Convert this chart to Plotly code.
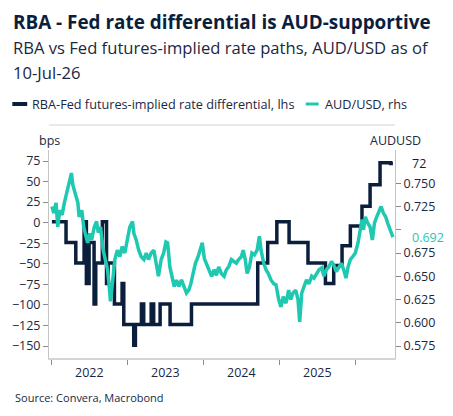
import plotly.graph_objects as go

# RBA-Fed futures-implied rate differential (bps), step series
diff_dates = ["2022-01-01", "2022-03-10", "2022-04-26", "2022-06-05", "2022-06-16", "2022-06-29",
              "2022-07-23", "2022-07-31", "2022-09-01", "2022-09-21", "2022-09-29", "2022-10-29",
              "2022-12-05", "2022-12-13", "2023-01-30", "2023-02-07", "2023-03-08", "2023-03-19",
              "2023-04-24", "2023-05-06", "2023-06-06", "2023-07-24", "2023-11-04", "2024-09-18",
              "2024-11-05", "2024-12-19", "2025-02-16", "2025-05-18", "2025-08-10", "2025-09-19",
              "2025-10-29", "2025-12-08", "2026-02-02", "2026-03-13", "2026-04-30", "2026-06-20",
              "2026-07-01"]
diff_vals = [1, -24, -49, 1, -74, -24, -99, -49, 1, -74, -49, -99, -74, -124, -149, -124, -99, -124,
             -99, -124, -99, -124, -99, -49, -24, 1, -24, -49, -74, -52, -28, -4, 20, 46, 73, 72, 72]

# AUD/USD (rhs)
aud_dates = ["2022-01-01", "2022-01-10", "2022-01-21", "2022-01-29", "2022-02-08", "2022-02-19",
             "2022-03-03", "2022-03-14", "2022-03-26", "2022-04-05", "2022-04-12", "2022-04-23",
             "2022-05-06", "2022-05-12", "2022-05-25", "2022-06-03", "2022-06-13", "2022-06-22",
             "2022-07-02", "2022-07-11", "2022-07-24", "2022-08-04", "2022-08-12", "2022-08-23",
             "2022-09-05", "2022-09-13", "2022-09-26", "2022-10-04", "2022-10-10", "2022-10-23",
             "2022-10-31", "2022-11-12", "2022-11-24", "2022-12-05", "2022-12-18", "2022-12-30",
             "2023-01-11", "2023-01-24", "2023-01-31", "2023-02-11", "2023-02-23", "2023-03-07",
             "2023-03-20", "2023-03-31", "2023-04-11", "2023-04-24", "2023-05-07", "2023-05-18",
             "2023-05-29", "2023-06-11", "2023-06-23", "2023-07-04", "2023-07-12", "2023-07-23",
             "2023-08-04", "2023-08-13", "2023-08-24", "2023-09-04", "2023-09-17", "2023-09-30",
             "2023-10-11", "2023-10-22", "2023-11-01", "2023-11-12", "2023-11-23", "2023-12-06",
             "2023-12-19", "2023-12-26", "2024-01-05", "2024-01-16", "2024-01-27", "2024-02-09",
             "2024-02-21", "2024-03-03", "2024-03-14", "2024-03-27", "2024-04-09", "2024-04-20",
             "2024-05-01", "2024-05-14", "2024-05-27", "2024-06-07", "2024-06-18", "2024-07-01",
             "2024-07-10", "2024-07-20", "2024-07-29", "2024-08-09", "2024-08-21", "2024-09-02",
             "2024-09-15", "2024-09-26", "2024-10-04", "2024-10-17", "2024-10-28", "2024-11-08",
             "2024-11-21", "2024-12-04", "2024-12-15", "2024-12-28", "2025-01-08", "2025-01-19",
             "2025-02-01", "2025-02-14", "2025-02-24", "2025-03-07", "2025-03-20", "2025-03-31",
             "2025-04-08", "2025-04-18", "2025-04-29", "2025-05-11", "2025-05-23", "2025-06-05",
             "2025-06-16", "2025-06-27", "2025-07-10", "2025-07-23", "2025-08-03", "2025-08-14",
             "2025-08-26", "2025-09-08", "2025-09-19", "2025-10-01", "2025-10-13", "2025-10-26",
             "2025-11-06", "2025-11-17", "2025-11-27", "2025-12-08", "2025-12-19", "2026-01-01",
             "2026-01-14", "2026-01-25", "2026-02-02", "2026-02-09", "2026-02-18", "2026-03-02",
             "2026-03-13", "2026-03-24", "2026-04-03", "2026-04-14", "2026-04-25", "2026-05-05",
             "2026-05-16", "2026-05-27", "2026-06-06", "2026-06-17", "2026-07-01"]
aud_vals = [0.725, 0.718, 0.729, 0.703, 0.721, 0.716,
            0.730, 0.740, 0.750, 0.761, 0.748, 0.740,
            0.729, 0.714, 0.721, 0.703, 0.693, 0.686,
            0.696, 0.689, 0.703, 0.709, 0.697, 0.703,
            0.678, 0.668, 0.657, 0.639, 0.623, 0.650,
            0.668, 0.678, 0.671, 0.682, 0.675, 0.689,
            0.703, 0.709, 0.696, 0.689, 0.678, 0.671,
            0.668, 0.675, 0.668, 0.675, 0.678, 0.664,
            0.650, 0.668, 0.675, 0.687, 0.686, 0.660,
            0.650, 0.639, 0.646, 0.639, 0.646, 0.637,
            0.632, 0.635, 0.642, 0.653, 0.664, 0.671,
            0.682, 0.686, 0.669, 0.664, 0.657, 0.650,
            0.657, 0.651, 0.660, 0.653, 0.650, 0.657,
            0.660, 0.668, 0.666, 0.664, 0.668, 0.671,
            0.678, 0.668, 0.653, 0.660, 0.675, 0.673,
            0.678, 0.693, 0.678, 0.664, 0.657, 0.653,
            0.646, 0.642, 0.641, 0.625, 0.617, 0.628,
            0.621, 0.635, 0.625, 0.632, 0.635, 0.625,
            0.601, 0.632, 0.639, 0.646, 0.642, 0.650,
            0.648, 0.653, 0.657, 0.659, 0.650, 0.657,
            0.660, 0.666, 0.662, 0.655, 0.659, 0.664,
            0.657, 0.648, 0.660, 0.668, 0.671, 0.675,
            0.686, 0.700, 0.711, 0.700, 0.714, 0.707,
            0.703, 0.689, 0.707, 0.714, 0.721, 0.725,
            0.718, 0.714, 0.707, 0.700, 0.692]

year_labels = ["2022", "2023", "2024", "2025"]
year_mids = ["2022-07-02", "2023-07-02", "2024-07-01", "2025-07-02"]
year_ticks = ["2022-01-01", "2023-01-01", "2024-01-01", "2025-01-01", "2026-01-01"]
left_ticks = [75, 50, 25, 0, -25, -50, -75, -100, -125, -150]
right_ticks = [0.750, 0.725, 0.700, 0.675, 0.650, 0.625, 0.600, 0.575]
right_text = ["0.750", "0.725", "", "0.675", "0.650", "0.625", "0.600", "0.575"]

NAVY = "#0b1f3c"
TEAL = "#1fc8b0"
TXT = "#1c2840"
FONT = "Open Sans"

W, H = 453, 416
L, R, T, B = 46, 395, 150, 358
pw, ph = R - L, B - T


def px(x):
    return (x - L) / pw


def py(y):
    return (B - y) / ph


fig = go.Figure()
fig.add_trace(go.Scatter(x=aud_dates, y=aud_vals, yaxis="y2", mode="lines",
                         line=dict(color=TEAL, width=3.5), name="AUD/USD, rhs"))
fig.add_trace(go.Scatter(x=diff_dates, y=diff_vals, mode="lines", line_shape="hv",
                         line=dict(color=NAVY, width=3.5),
                         name="RBA-Fed futures-implied rate differential, lhs"))

fig.update_layout(
    width=W, height=H, showlegend=False,
    margin=dict(l=L, r=W - R, t=T, b=H - B),
    paper_bgcolor="white", plot_bgcolor="white",
    font=dict(family=FONT, color=TXT, size=12),
    xaxis=dict(range=["2021-12-18", "2026-07-11"], tickvals=year_ticks,
               ticktext=[""] * len(year_ticks), ticks="outside", ticklen=5,
               tickcolor="#8a8a8a", tickwidth=1, showgrid=False, zeroline=False,
               showline=True, linecolor="#d4d4d4", linewidth=2),
    yaxis=dict(range=[-164.6, 88.4], tickvals=left_ticks, ticks="outside", ticklen=5,
               tickcolor="#8a8a8a", showgrid=False, zeroline=False, showline=True,
               linecolor="#c4c4c4", linewidth=1, tickfont=dict(size=12.5, color=TXT)),
    yaxis2=dict(range=[0.5621, 0.7858], overlaying="y", side="right", tickvals=right_ticks,
                ticktext=right_text, ticks="outside", ticklen=5, tickcolor="#8a8a8a",
                showgrid=False, zeroline=False, showline=True, linecolor="#c4c4c4",
                linewidth=1, tickfont=dict(size=12.5, color=TXT)),
)

ann = []
ann.append(dict(text="<b>RBA - Fed rate differential is AUD-supportive</b>", x=px(8), y=py(22),
                xanchor="left", yanchor="middle", font=dict(size=18.9, color="#0b1e3e")))
ann.append(dict(text="RBA vs Fed futures-implied rate paths, AUD/USD as of", x=px(8), y=py(47),
                xanchor="left", yanchor="middle", font=dict(size=16.6, color=TXT)))
ann.append(dict(text="10-Jul-26", x=px(8), y=py(72),
                xanchor="left", yanchor="middle", font=dict(size=16.6, color=TXT)))
ann.append(dict(text="RBA-Fed futures-implied rate differential, lhs", x=px(27), y=py(104),
                xanchor="left", yanchor="middle", font=dict(size=12.7, color=TXT)))
ann.append(dict(text="AUD/USD, rhs", x=px(322), y=py(104),
                xanchor="left", yanchor="middle", font=dict(size=12.7, color=TXT)))
ann.append(dict(text="bps", x=px(46), y=py(140), xanchor="center", yanchor="middle",
                font=dict(size=12.5, color=TXT)))
ann.append(dict(text="AUDUSD", x=px(395), y=py(140), xanchor="center", yanchor="middle",
                font=dict(size=12.5, color=TXT)))
ann.append(dict(text="Source: Convera, Macrobond", x=px(10), y=py(397), xanchor="left",
                yanchor="middle", font=dict(size=11, color=TXT)))
for lab, m in zip(year_labels, year_mids):
    ann.append(dict(text=lab, x=m, xref="x", y=py(372), yref="paper", xanchor="center",
                    yanchor="middle", showarrow=False, font=dict(size=12.5, color=TXT)))
ann.append(dict(text=str(diff_vals[-1]), x=px(410), y=diff_vals[-1], yref="y", xanchor="left",
                yanchor="middle", showarrow=False, font=dict(size=12.5, color=NAVY)))
ann.append(dict(text=f"{aud_vals[-1]:.3f}", x=px(410), y=aud_vals[-1], yref="y2", xanchor="left",
                yanchor="middle", showarrow=False, font=dict(size=12.5, color=TEAL)))
for a in ann:
    a.setdefault("xref", "paper")
    a.setdefault("yref", "paper")
    a.setdefault("showarrow", False)
fig.update_layout(annotations=ann)

fig.update_layout(shapes=[
    dict(type="line", xref="paper", yref="paper", x0=px(9), x1=px(24), y0=py(104), y1=py(104),
         line=dict(color=NAVY, width=4)),
    dict(type="line", xref="paper", yref="paper", x0=px(305), x1=px(318), y0=py(104), y1=py(104),
         line=dict(color=TEAL, width=3)),
    dict(type="line", xref="paper", yref="paper", x0=0, x1=1, y0=py(125), y1=py(125),
         line=dict(color="#d4d4d4", width=1)),
])

fig.write_html("out.html")
